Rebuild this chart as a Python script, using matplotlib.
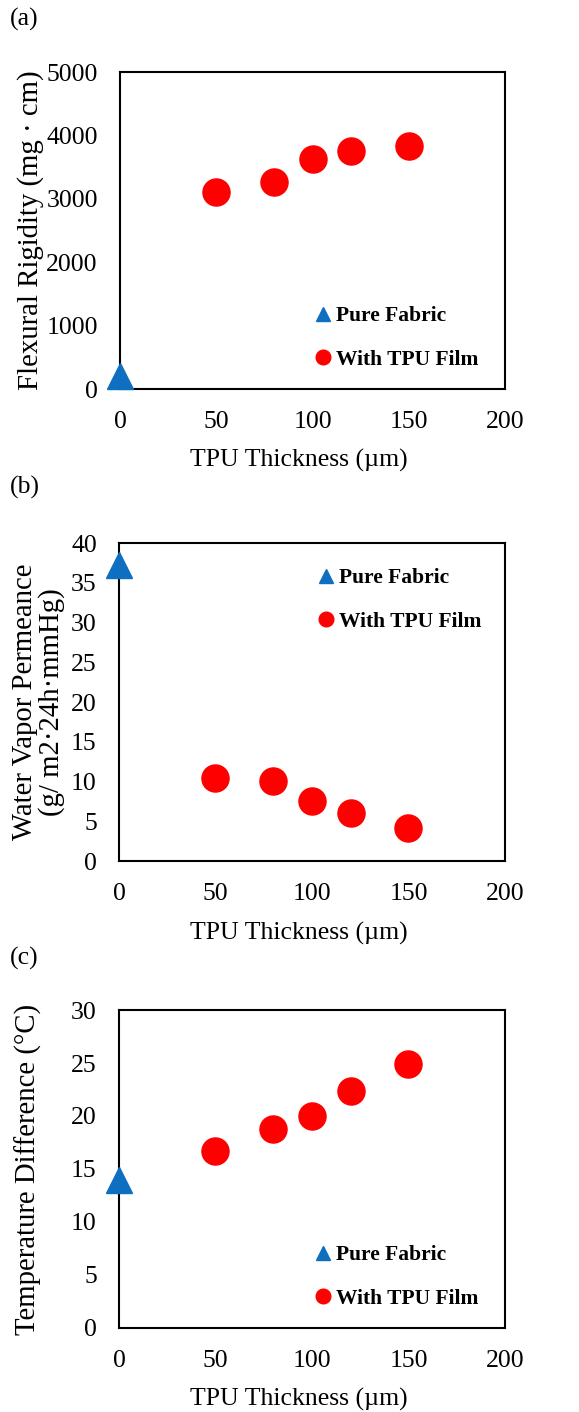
import matplotlib
matplotlib.use('Agg')
import matplotlib.pyplot as plt

# --- Data ---
thickness_film = [50, 80, 100, 120, 150]
thickness_pure = [0]

rigidity_pure = [210]
rigidity_film = [3100, 3270, 3630, 3760, 3830]

permeance_pure = [37.2]
permeance_film = [10.5, 10.1, 7.6, 6.0, 4.1]

temp_pure = [14.0]
temp_film = [16.7, 18.8, 20.0, 22.4, 24.9]

x_ticks = [0, 50, 100, 150, 200]

# --- Style ---
plt.rcParams['font.family'] = ['Liberation Serif', 'DejaVu Serif']
BLUE = '#0E6FC1'
RED = '#FF0000'
FS = 18.5
FS_YLAB = 20.7

fig = plt.figure(figsize=(5.79, 14.12), dpi=100)


def make_panel(rect, y_pure, y_film, ymax, ystep, ylabel, ylabel_x, legend_anchor):
    ax = fig.add_axes(rect)
    ax.plot(thickness_pure, y_pure, linestyle='none', marker='^', markersize=19,
            color=BLUE, clip_on=False, zorder=3, label='Pure Fabric')
    ax.plot(thickness_film, y_film, linestyle='none', marker='o', markersize=19.5,
            color=RED, clip_on=False, zorder=3, label='With TPU Film')
    ax.set_xlim(0, 200)
    ax.set_ylim(0, ymax)
    ax.set_xticks(x_ticks)
    ax.set_yticks(range(0, ymax + 1, ystep))
    ax.tick_params(length=0, labelsize=FS, pad=16)
    for s in ax.spines.values():
        s.set_linewidth(1.5)
    ax.set_xlabel('TPU Thickness (µm)', fontsize=FS)
    ax.xaxis.set_label_coords(0.465, -0.19)
    ax.set_ylabel(ylabel, fontsize=FS_YLAB, linespacing=1.0)
    ax.yaxis.set_label_coords(ylabel_x, 0.5)
    ax.legend(loc='center left', bbox_to_anchor=legend_anchor, frameon=False,
              prop={'weight': 'bold', 'size': 15.5}, markerscale=0.54,
              handlelength=0.7, handletextpad=0.25, borderaxespad=0, borderpad=0,
              labelspacing=1.1)
    return ax


make_panel([0.2073, 0.7245, 0.665, 0.2245], rigidity_pure, rigidity_film, 5000, 1000,
           'Flexural Rigidity (mg · cm)', -0.198, (0.508, 0.161))
make_panel([0.2055, 0.3902, 0.6667, 0.2252], permeance_pure, permeance_film, 40, 5,
           'Water Vapor Permeance\n(g/ m2·24h·mmHg)', -0.14, (0.517, 0.821))
make_panel([0.2055, 0.0595, 0.6667, 0.2252], temp_pure, temp_film, 30, 5,
           'Temperature Difference (°C)', -0.2, (0.51, 0.160))

for label, ytop in [('(a)', 8), ('(b)', 476), ('(c)', 947)]:
    fig.text(10 / 579, 1 - ytop / 1412, label, fontsize=FS, ha='left', va='top')

plt.savefig('out.png', dpi=100)
